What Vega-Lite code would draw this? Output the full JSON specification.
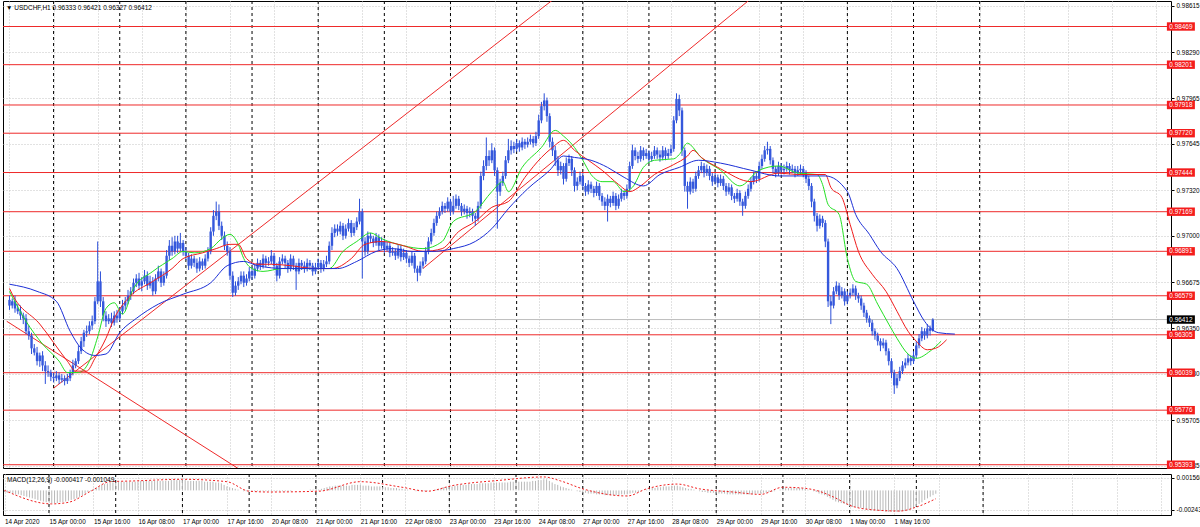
{
"$schema": "https://vega.github.io/schema/vega-lite/v6.json",
"padding": {"left": 2, "top": 0, "right": 0, "bottom": 0},
"background": "white",
"spacing": 3,
"resolve": {"scale": {"x": "independent", "y": "independent"}},
"config": {
 "view": {"stroke": "#000", "strokeWidth": 1},
 "axis": {"domain": false, "labelFont": "Liberation Sans", "labelFontSize": 6.4, "labelColor": "#000", "gridColor": "#c4c4c4", "gridDash": [1, 2], "gridWidth": 1, "tickColor": "#000", "tickSize": 3},
 "title": {"font": "Liberation Sans", "fontSize": 6.5, "fontWeight": "normal", "color": "#000", "anchor": "start", "frame": "group"}
},
"datasets": {
 "days": [{"d":16},{"d":40},{"d":64},{"d":88},{"d":112},{"d":136},{"d":160},{"d":184},{"d":208},{"d":232},{"d":256},{"d":280},{"d":304},{"d":328},{"d":352}],
 "levels": [{"p":0.98469},{"p":0.98201},{"p":0.97918},{"p":0.97720},{"p":0.97444},{"p":0.97169},{"p":0.96891},{"p":0.96579},{"p":0.96305},{"p":0.96039},{"p":0.95776},{"p":0.95393}],
 "bid": [{"p":0.96412}],
 "trend": [{"t":"a","i":16,"p":0.9593},{"t":"a","i":210,"p":0.9885},{"t":"b","i":150,"p":0.9677},{"t":"b","i":275,"p":0.9876},{"t":"c","i":-1,"p":0.9640},{"t":"c","i":90,"p":0.9528}],
 "bars": [
{"i":0,"o":0.9655,"h":0.9658,"l":0.9648,"c":0.9651,"m":-0.0002},
{"i":1,"o":0.9651,"h":0.9656,"l":0.9649,"c":0.9654,"m":-0.0003},
{"i":2,"o":0.9654,"h":0.9658,"l":0.9646,"c":0.9649,"m":-0.0003},
{"i":3,"o":0.9649,"h":0.9652,"l":0.9645,"c":0.9647,"m":-0.0004},
{"i":4,"o":0.9647,"h":0.9651,"l":0.9641,"c":0.9644,"m":-0.0005},
{"i":5,"o":0.9644,"h":0.9646,"l":0.9638,"c":0.9642,"m":-0.0005},
{"i":6,"o":0.9642,"h":0.9645,"l":0.9631,"c":0.9633,"m":-0.0006},
{"i":7,"o":0.9633,"h":0.9637,"l":0.9627,"c":0.9630,"m":-0.0007},
{"i":8,"o":0.9630,"h":0.9632,"l":0.9617,"c":0.9621,"m":-0.0008},
{"i":9,"o":0.9621,"h":0.9624,"l":0.9616,"c":0.9618,"m":-0.0009},
{"i":10,"o":0.9618,"h":0.9622,"l":0.9609,"c":0.9612,"m":-0.0010},
{"i":11,"o":0.9612,"h":0.9618,"l":0.9608,"c":0.9616,"m":-0.0011},
{"i":12,"o":0.9616,"h":0.9619,"l":0.9605,"c":0.9609,"m":-0.0012},
{"i":13,"o":0.9609,"h":0.9612,"l":0.9596,"c":0.9605,"m":-0.0013},
{"i":14,"o":0.9605,"h":0.9609,"l":0.9601,"c":0.9604,"m":-0.0014},
{"i":15,"o":0.9604,"h":0.9606,"l":0.9598,"c":0.9601,"m":-0.0015},
{"i":16,"o":0.9601,"h":0.9604,"l":0.9597,"c":0.9600,"m":-0.0015},
{"i":17,"o":0.9600,"h":0.9605,"l":0.9598,"c":0.9602,"m":-0.0016},
{"i":18,"o":0.9602,"h":0.9604,"l":0.9596,"c":0.9599,"m":-0.0016},
{"i":19,"o":0.9599,"h":0.9603,"l":0.9597,"c":0.9600,"m":-0.0016},
{"i":20,"o":0.9600,"h":0.9602,"l":0.9595,"c":0.9598,"m":-0.0015},
{"i":21,"o":0.9598,"h":0.9603,"l":0.9596,"c":0.9600,"m":-0.0015},
{"i":22,"o":0.9600,"h":0.9606,"l":0.9598,"c":0.9604,"m":-0.0014},
{"i":23,"o":0.9604,"h":0.9613,"l":0.9602,"c":0.9609,"m":-0.0013},
{"i":24,"o":0.9609,"h":0.9614,"l":0.9607,"c":0.9612,"m":-0.0012},
{"i":25,"o":0.9612,"h":0.9623,"l":0.9610,"c":0.9619,"m":-0.0011},
{"i":26,"o":0.9619,"h":0.9629,"l":0.9617,"c":0.9626,"m":-0.0010},
{"i":27,"o":0.9626,"h":0.9634,"l":0.9622,"c":0.9632,"m":-0.0008},
{"i":28,"o":0.9632,"h":0.9637,"l":0.9629,"c":0.9633,"m":-0.0006},
{"i":29,"o":0.9633,"h":0.9640,"l":0.9631,"c":0.9637,"m":-0.0004},
{"i":30,"o":0.9637,"h":0.9644,"l":0.9634,"c":0.9640,"m":-0.0002},
{"i":31,"o":0.9640,"h":0.9657,"l":0.9638,"c":0.9654,"m":-0.0001},
{"i":32,"o":0.9654,"h":0.9696,"l":0.9652,"c":0.9668,"m":0.0002},
{"i":33,"o":0.9668,"h":0.9675,"l":0.9650,"c":0.9654,"m":0.0003},
{"i":34,"o":0.9654,"h":0.9657,"l":0.9640,"c":0.9644,"m":0.0005},
{"i":35,"o":0.9644,"h":0.9647,"l":0.9636,"c":0.9640,"m":0.0007},
{"i":36,"o":0.9640,"h":0.9645,"l":0.9638,"c":0.9642,"m":0.0008},
{"i":37,"o":0.9642,"h":0.9646,"l":0.9636,"c":0.9639,"m":0.0009},
{"i":38,"o":0.9639,"h":0.9647,"l":0.9637,"c":0.9644,"m":0.0010},
{"i":39,"o":0.9644,"h":0.9648,"l":0.9639,"c":0.9642,"m":0.0010},
{"i":40,"o":0.9642,"h":0.9650,"l":0.9640,"c":0.9647,"m":0.0010},
{"i":41,"o":0.9647,"h":0.9655,"l":0.9645,"c":0.9651,"m":0.0011},
{"i":42,"o":0.9651,"h":0.9657,"l":0.9648,"c":0.9654,"m":0.0011},
{"i":43,"o":0.9654,"h":0.9662,"l":0.9652,"c":0.9658,"m":0.0011},
{"i":44,"o":0.9658,"h":0.9664,"l":0.9655,"c":0.9661,"m":0.0011},
{"i":45,"o":0.9661,"h":0.9670,"l":0.9659,"c":0.9667,"m":0.0011},
{"i":46,"o":0.9667,"h":0.9673,"l":0.9664,"c":0.9670,"m":0.0011},
{"i":47,"o":0.9670,"h":0.9674,"l":0.9662,"c":0.9665,"m":0.0011},
{"i":48,"o":0.9665,"h":0.9671,"l":0.9661,"c":0.9668,"m":0.0011},
{"i":49,"o":0.9668,"h":0.9676,"l":0.9666,"c":0.9672,"m":0.0012},
{"i":50,"o":0.9672,"h":0.9675,"l":0.9662,"c":0.9665,"m":0.0012},
{"i":51,"o":0.9665,"h":0.9672,"l":0.9663,"c":0.9668,"m":0.0012},
{"i":52,"o":0.9668,"h":0.9671,"l":0.9658,"c":0.9661,"m":0.0012},
{"i":53,"o":0.9661,"h":0.9673,"l":0.9659,"c":0.9670,"m":0.0012},
{"i":54,"o":0.9670,"h":0.9679,"l":0.9668,"c":0.9675,"m":0.0012},
{"i":55,"o":0.9675,"h":0.9677,"l":0.9664,"c":0.9667,"m":0.0012},
{"i":56,"o":0.9667,"h":0.9675,"l":0.9665,"c":0.9672,"m":0.0012},
{"i":57,"o":0.9672,"h":0.9690,"l":0.9670,"c":0.9686,"m":0.0012},
{"i":58,"o":0.9686,"h":0.9697,"l":0.9683,"c":0.9693,"m":0.0012},
{"i":59,"o":0.9693,"h":0.9699,"l":0.9686,"c":0.9689,"m":0.0012},
{"i":60,"o":0.9689,"h":0.9700,"l":0.9687,"c":0.9696,"m":0.0013},
{"i":61,"o":0.9696,"h":0.9700,"l":0.9688,"c":0.9691,"m":0.0013},
{"i":62,"o":0.9691,"h":0.9702,"l":0.9689,"c":0.9695,"m":0.0013},
{"i":63,"o":0.9695,"h":0.9697,"l":0.9686,"c":0.9689,"m":0.0013},
{"i":64,"o":0.9689,"h":0.9692,"l":0.9683,"c":0.9686,"m":0.0013},
{"i":65,"o":0.9686,"h":0.9688,"l":0.9676,"c":0.9679,"m":0.0013},
{"i":66,"o":0.9679,"h":0.9687,"l":0.9677,"c":0.9684,"m":0.0012},
{"i":67,"o":0.9684,"h":0.9686,"l":0.9678,"c":0.9681,"m":0.0012},
{"i":68,"o":0.9681,"h":0.9684,"l":0.9674,"c":0.9677,"m":0.0012},
{"i":69,"o":0.9677,"h":0.9685,"l":0.9675,"c":0.9682,"m":0.0012},
{"i":70,"o":0.9682,"h":0.9684,"l":0.9676,"c":0.9679,"m":0.0012},
{"i":71,"o":0.9679,"h":0.9687,"l":0.9677,"c":0.9684,"m":0.0012},
{"i":72,"o":0.9684,"h":0.9692,"l":0.9682,"c":0.9689,"m":0.0011},
{"i":73,"o":0.9689,"h":0.9706,"l":0.9687,"c":0.9703,"m":0.0011},
{"i":74,"o":0.9703,"h":0.9718,"l":0.9700,"c":0.9714,"m":0.0011},
{"i":75,"o":0.9714,"h":0.9724,"l":0.9711,"c":0.9717,"m":0.0011},
{"i":76,"o":0.9717,"h":0.9722,"l":0.9704,"c":0.9707,"m":0.0010},
{"i":77,"o":0.9707,"h":0.9710,"l":0.9697,"c":0.9700,"m":0.0010},
{"i":78,"o":0.9700,"h":0.9703,"l":0.9690,"c":0.9693,"m":0.0009},
{"i":79,"o":0.9693,"h":0.9696,"l":0.9686,"c":0.9689,"m":0.0007},
{"i":80,"o":0.9689,"h":0.9692,"l":0.9669,"c":0.9672,"m":0.0005},
{"i":81,"o":0.9672,"h":0.9675,"l":0.9657,"c":0.9660,"m":0.0004},
{"i":82,"o":0.9660,"h":0.9668,"l":0.9658,"c":0.9665,"m":0.0003},
{"i":83,"o":0.9665,"h":0.9671,"l":0.9662,"c":0.9668,"m":0.0002},
{"i":84,"o":0.9668,"h":0.9675,"l":0.9666,"c":0.9672,"m":0.0001},
{"i":85,"o":0.9672,"h":0.9675,"l":0.9664,"c":0.9667,"m":0.0000},
{"i":86,"o":0.9667,"h":0.9673,"l":0.9665,"c":0.9670,"m":-0.0001},
{"i":87,"o":0.9670,"h":0.9678,"l":0.9668,"c":0.9675,"m":-0.0001},
{"i":88,"o":0.9675,"h":0.9678,"l":0.9669,"c":0.9672,"m":-0.0001},
{"i":89,"o":0.9672,"h":0.9680,"l":0.9670,"c":0.9677,"m":-0.0001},
{"i":90,"o":0.9677,"h":0.9684,"l":0.9675,"c":0.9681,"m":-0.0001},
{"i":91,"o":0.9681,"h":0.9683,"l":0.9676,"c":0.9679,"m":-0.0001},
{"i":92,"o":0.9679,"h":0.9687,"l":0.9677,"c":0.9684,"m":-0.0001},
{"i":93,"o":0.9684,"h":0.9686,"l":0.9678,"c":0.9681,"m":-0.0001},
{"i":94,"o":0.9681,"h":0.9685,"l":0.9679,"c":0.9682,"m":-0.0001},
{"i":95,"o":0.9682,"h":0.9690,"l":0.9680,"c":0.9686,"m":-0.0001},
{"i":96,"o":0.9686,"h":0.9688,"l":0.9676,"c":0.9679,"m":-0.0001},
{"i":97,"o":0.9679,"h":0.9681,"l":0.9668,"c":0.9672,"m":-0.0001},
{"i":98,"o":0.9672,"h":0.9685,"l":0.9670,"c":0.9682,"m":-0.0001},
{"i":99,"o":0.9682,"h":0.9687,"l":0.9680,"c":0.9684,"m":-0.0001},
{"i":100,"o":0.9684,"h":0.9686,"l":0.9677,"c":0.9681,"m":-0.0001},
{"i":101,"o":0.9681,"h":0.9683,"l":0.9674,"c":0.9677,"m":-0.0001},
{"i":102,"o":0.9677,"h":0.9687,"l":0.9675,"c":0.9684,"m":-0.0001},
{"i":103,"o":0.9684,"h":0.9686,"l":0.9676,"c":0.9679,"m":-0.0001},
{"i":104,"o":0.9679,"h":0.9681,"l":0.9662,"c":0.9675,"m":0.0000},
{"i":105,"o":0.9675,"h":0.9684,"l":0.9673,"c":0.9681,"m":0.0000},
{"i":106,"o":0.9681,"h":0.9683,"l":0.9676,"c":0.9679,"m":0.0000},
{"i":107,"o":0.9679,"h":0.9682,"l":0.9674,"c":0.9677,"m":0.0000},
{"i":108,"o":0.9677,"h":0.9684,"l":0.9675,"c":0.9681,"m":0.0000},
{"i":109,"o":0.9681,"h":0.9683,"l":0.9676,"c":0.9679,"m":0.0000},
{"i":110,"o":0.9679,"h":0.9681,"l":0.9672,"c":0.9675,"m":0.0001},
{"i":111,"o":0.9675,"h":0.9681,"l":0.9673,"c":0.9678,"m":0.0001},
{"i":112,"o":0.9678,"h":0.9684,"l":0.9676,"c":0.9681,"m":0.0001},
{"i":113,"o":0.9681,"h":0.9683,"l":0.9674,"c":0.9677,"m":0.0001},
{"i":114,"o":0.9677,"h":0.9683,"l":0.9675,"c":0.9680,"m":0.0002},
{"i":115,"o":0.9680,"h":0.9686,"l":0.9678,"c":0.9682,"m":0.0003},
{"i":116,"o":0.9682,"h":0.9696,"l":0.9680,"c":0.9693,"m":0.0004},
{"i":117,"o":0.9693,"h":0.9706,"l":0.9690,"c":0.9702,"m":0.0005},
{"i":118,"o":0.9702,"h":0.9708,"l":0.9699,"c":0.9705,"m":0.0005},
{"i":119,"o":0.9705,"h":0.9708,"l":0.9700,"c":0.9703,"m":0.0006},
{"i":120,"o":0.9703,"h":0.9710,"l":0.9701,"c":0.9707,"m":0.0006},
{"i":121,"o":0.9707,"h":0.9709,"l":0.9697,"c":0.9700,"m":0.0006},
{"i":122,"o":0.9700,"h":0.9708,"l":0.9698,"c":0.9705,"m":0.0006},
{"i":123,"o":0.9705,"h":0.9712,"l":0.9703,"c":0.9709,"m":0.0006},
{"i":124,"o":0.9709,"h":0.9711,"l":0.9699,"c":0.9702,"m":0.0006},
{"i":125,"o":0.9702,"h":0.9709,"l":0.9700,"c":0.9706,"m":0.0007},
{"i":126,"o":0.9706,"h":0.9713,"l":0.9704,"c":0.9710,"m":0.0007},
{"i":127,"o":0.9710,"h":0.9726,"l":0.9708,"c":0.9717,"m":0.0007},
{"i":128,"o":0.9717,"h":0.9719,"l":0.9670,"c":0.9696,"m":0.0007},
{"i":129,"o":0.9696,"h":0.9699,"l":0.9686,"c":0.9689,"m":0.0006},
{"i":130,"o":0.9689,"h":0.9703,"l":0.9687,"c":0.9700,"m":0.0006},
{"i":131,"o":0.9700,"h":0.9702,"l":0.9695,"c":0.9698,"m":0.0006},
{"i":132,"o":0.9698,"h":0.9700,"l":0.9692,"c":0.9695,"m":0.0005},
{"i":133,"o":0.9695,"h":0.9702,"l":0.9693,"c":0.9699,"m":0.0005},
{"i":134,"o":0.9699,"h":0.9701,"l":0.9690,"c":0.9693,"m":0.0005},
{"i":135,"o":0.9693,"h":0.9699,"l":0.9691,"c":0.9696,"m":0.0005},
{"i":136,"o":0.9696,"h":0.9698,"l":0.9688,"c":0.9691,"m":0.0004},
{"i":137,"o":0.9691,"h":0.9696,"l":0.9689,"c":0.9693,"m":0.0004},
{"i":138,"o":0.9693,"h":0.9695,"l":0.9685,"c":0.9688,"m":0.0004},
{"i":139,"o":0.9688,"h":0.9692,"l":0.9686,"c":0.9689,"m":0.0003},
{"i":140,"o":0.9689,"h":0.9691,"l":0.9683,"c":0.9686,"m":0.0003},
{"i":141,"o":0.9686,"h":0.9694,"l":0.9684,"c":0.9691,"m":0.0003},
{"i":142,"o":0.9691,"h":0.9693,"l":0.9682,"c":0.9685,"m":0.0002},
{"i":143,"o":0.9685,"h":0.9691,"l":0.9683,"c":0.9688,"m":0.0002},
{"i":144,"o":0.9688,"h":0.9690,"l":0.9681,"c":0.9684,"m":0.0001},
{"i":145,"o":0.9684,"h":0.9686,"l":0.9678,"c":0.9681,"m":0.0001},
{"i":146,"o":0.9681,"h":0.9689,"l":0.9679,"c":0.9686,"m":0.0000},
{"i":147,"o":0.9686,"h":0.9688,"l":0.9674,"c":0.9677,"m":0.0000},
{"i":148,"o":0.9677,"h":0.9679,"l":0.9668,"c":0.9674,"m":-0.0001},
{"i":149,"o":0.9674,"h":0.9682,"l":0.9672,"c":0.9679,"m":-0.0001},
{"i":150,"o":0.9679,"h":0.9685,"l":0.9677,"c":0.9682,"m":-0.0001},
{"i":151,"o":0.9682,"h":0.9692,"l":0.9680,"c":0.9689,"m":-0.0001},
{"i":152,"o":0.9689,"h":0.9699,"l":0.9687,"c":0.9696,"m":-0.0001},
{"i":153,"o":0.9696,"h":0.9705,"l":0.9694,"c":0.9702,"m":0.0000},
{"i":154,"o":0.9702,"h":0.9712,"l":0.9700,"c":0.9709,"m":0.0000},
{"i":155,"o":0.9709,"h":0.9717,"l":0.9707,"c":0.9714,"m":0.0001},
{"i":156,"o":0.9714,"h":0.9720,"l":0.9712,"c":0.9717,"m":0.0002},
{"i":157,"o":0.9717,"h":0.9724,"l":0.9715,"c":0.9721,"m":0.0003},
{"i":158,"o":0.9721,"h":0.9723,"l":0.9716,"c":0.9719,"m":0.0004},
{"i":159,"o":0.9719,"h":0.9727,"l":0.9717,"c":0.9724,"m":0.0004},
{"i":160,"o":0.9724,"h":0.9726,"l":0.9714,"c":0.9717,"m":0.0005},
{"i":161,"o":0.9717,"h":0.9728,"l":0.9715,"c":0.9721,"m":0.0005},
{"i":162,"o":0.9721,"h":0.9729,"l":0.9719,"c":0.9726,"m":0.0006},
{"i":163,"o":0.9726,"h":0.9728,"l":0.9718,"c":0.9721,"m":0.0006},
{"i":164,"o":0.9721,"h":0.9723,"l":0.9714,"c":0.9717,"m":0.0007},
{"i":165,"o":0.9717,"h":0.9722,"l":0.9715,"c":0.9719,"m":0.0007},
{"i":166,"o":0.9719,"h":0.9721,"l":0.9712,"c":0.9716,"m":0.0007},
{"i":167,"o":0.9716,"h":0.9720,"l":0.9713,"c":0.9717,"m":0.0008},
{"i":168,"o":0.9717,"h":0.9719,"l":0.9710,"c":0.9714,"m":0.0008},
{"i":169,"o":0.9714,"h":0.9716,"l":0.9707,"c":0.9712,"m":0.0008},
{"i":170,"o":0.9712,"h":0.9724,"l":0.9710,"c":0.9721,"m":0.0008},
{"i":171,"o":0.9721,"h":0.9745,"l":0.9719,"c":0.9742,"m":0.0009},
{"i":172,"o":0.9742,"h":0.9753,"l":0.9739,"c":0.9749,"m":0.0009},
{"i":173,"o":0.9749,"h":0.9769,"l":0.9746,"c":0.9756,"m":0.0009},
{"i":174,"o":0.9756,"h":0.9760,"l":0.9749,"c":0.9753,"m":0.0009},
{"i":175,"o":0.9753,"h":0.9765,"l":0.9751,"c":0.9760,"m":0.0010},
{"i":176,"o":0.9760,"h":0.9762,"l":0.9742,"c":0.9746,"m":0.0010},
{"i":177,"o":0.9746,"h":0.9748,"l":0.9705,"c":0.9731,"m":0.0010},
{"i":178,"o":0.9731,"h":0.9740,"l":0.9728,"c":0.9737,"m":0.0010},
{"i":179,"o":0.9737,"h":0.9745,"l":0.9735,"c":0.9742,"m":0.0010},
{"i":180,"o":0.9742,"h":0.9756,"l":0.9740,"c":0.9753,"m":0.0010},
{"i":181,"o":0.9753,"h":0.9768,"l":0.9751,"c":0.9760,"m":0.0010},
{"i":182,"o":0.9760,"h":0.9767,"l":0.9757,"c":0.9763,"m":0.0011},
{"i":183,"o":0.9763,"h":0.9766,"l":0.9758,"c":0.9761,"m":0.0011},
{"i":184,"o":0.9761,"h":0.9768,"l":0.9759,"c":0.9765,"m":0.0011},
{"i":185,"o":0.9765,"h":0.9767,"l":0.9759,"c":0.9762,"m":0.0011},
{"i":186,"o":0.9762,"h":0.9769,"l":0.9760,"c":0.9766,"m":0.0011},
{"i":187,"o":0.9766,"h":0.9768,"l":0.9761,"c":0.9764,"m":0.0011},
{"i":188,"o":0.9764,"h":0.9769,"l":0.9762,"c":0.9766,"m":0.0011},
{"i":189,"o":0.9766,"h":0.9771,"l":0.9764,"c":0.9768,"m":0.0011},
{"i":190,"o":0.9768,"h":0.9770,"l":0.9762,"c":0.9765,"m":0.0012},
{"i":191,"o":0.9765,"h":0.9773,"l":0.9763,"c":0.9770,"m":0.0012},
{"i":192,"o":0.9770,"h":0.9785,"l":0.9768,"c":0.9781,"m":0.0013},
{"i":193,"o":0.9781,"h":0.9794,"l":0.9779,"c":0.9791,"m":0.0013},
{"i":194,"o":0.9791,"h":0.9800,"l":0.9788,"c":0.9795,"m":0.0014},
{"i":195,"o":0.9795,"h":0.9797,"l":0.9780,"c":0.9784,"m":0.0014},
{"i":196,"o":0.9784,"h":0.9786,"l":0.9762,"c":0.9766,"m":0.0012},
{"i":197,"o":0.9766,"h":0.9769,"l":0.9756,"c":0.9760,"m":0.0010},
{"i":198,"o":0.9760,"h":0.9763,"l":0.9749,"c":0.9753,"m":0.0008},
{"i":199,"o":0.9753,"h":0.9756,"l":0.9742,"c":0.9746,"m":0.0007},
{"i":200,"o":0.9746,"h":0.9752,"l":0.9743,"c":0.9749,"m":0.0005},
{"i":201,"o":0.9749,"h":0.9751,"l":0.9736,"c":0.9740,"m":0.0004},
{"i":202,"o":0.9740,"h":0.9755,"l":0.9738,"c":0.9751,"m":0.0003},
{"i":203,"o":0.9751,"h":0.9757,"l":0.9749,"c":0.9754,"m":0.0002},
{"i":204,"o":0.9754,"h":0.9756,"l":0.9742,"c":0.9746,"m":0.0001},
{"i":205,"o":0.9746,"h":0.9748,"l":0.9731,"c":0.9735,"m":0.0000},
{"i":206,"o":0.9735,"h":0.9741,"l":0.9732,"c":0.9738,"m":-0.0001},
{"i":207,"o":0.9738,"h":0.9745,"l":0.9736,"c":0.9742,"m":-0.0002},
{"i":208,"o":0.9742,"h":0.9744,"l":0.9732,"c":0.9735,"m":-0.0003},
{"i":209,"o":0.9735,"h":0.9737,"l":0.9728,"c":0.9731,"m":-0.0003},
{"i":210,"o":0.9731,"h":0.9739,"l":0.9729,"c":0.9736,"m":-0.0004},
{"i":211,"o":0.9736,"h":0.9738,"l":0.9730,"c":0.9733,"m":-0.0004},
{"i":212,"o":0.9733,"h":0.9735,"l":0.9727,"c":0.9730,"m":-0.0004},
{"i":213,"o":0.9730,"h":0.9738,"l":0.9728,"c":0.9735,"m":-0.0005},
{"i":214,"o":0.9735,"h":0.9737,"l":0.9725,"c":0.9728,"m":-0.0005},
{"i":215,"o":0.9728,"h":0.9730,"l":0.9721,"c":0.9724,"m":-0.0005},
{"i":216,"o":0.9724,"h":0.9727,"l":0.9718,"c":0.9721,"m":-0.0006},
{"i":217,"o":0.9721,"h":0.9729,"l":0.9710,"c":0.9726,"m":-0.0006},
{"i":218,"o":0.9726,"h":0.9728,"l":0.9720,"c":0.9723,"m":-0.0006},
{"i":219,"o":0.9723,"h":0.9731,"l":0.9721,"c":0.9728,"m":-0.0006},
{"i":220,"o":0.9728,"h":0.9730,"l":0.9718,"c":0.9721,"m":-0.0006},
{"i":221,"o":0.9721,"h":0.9729,"l":0.9719,"c":0.9726,"m":-0.0006},
{"i":222,"o":0.9726,"h":0.9733,"l":0.9724,"c":0.9730,"m":-0.0005},
{"i":223,"o":0.9730,"h":0.9732,"l":0.9725,"c":0.9728,"m":-0.0005},
{"i":224,"o":0.9728,"h":0.9736,"l":0.9726,"c":0.9733,"m":-0.0005},
{"i":225,"o":0.9733,"h":0.9752,"l":0.9731,"c":0.9749,"m":-0.0004},
{"i":226,"o":0.9749,"h":0.9764,"l":0.9747,"c":0.9760,"m":-0.0003},
{"i":227,"o":0.9760,"h":0.9762,"l":0.9753,"c":0.9756,"m":-0.0003},
{"i":228,"o":0.9756,"h":0.9759,"l":0.9751,"c":0.9754,"m":-0.0002},
{"i":229,"o":0.9754,"h":0.9763,"l":0.9752,"c":0.9760,"m":-0.0001},
{"i":230,"o":0.9760,"h":0.9762,"l":0.9753,"c":0.9756,"m":0.0000},
{"i":231,"o":0.9756,"h":0.9761,"l":0.9754,"c":0.9758,"m":0.0001},
{"i":232,"o":0.9758,"h":0.9760,"l":0.9751,"c":0.9754,"m":0.0002},
{"i":233,"o":0.9754,"h":0.9759,"l":0.9752,"c":0.9756,"m":0.0003},
{"i":234,"o":0.9756,"h":0.9763,"l":0.9754,"c":0.9760,"m":0.0003},
{"i":235,"o":0.9760,"h":0.9762,"l":0.9754,"c":0.9757,"m":0.0004},
{"i":236,"o":0.9757,"h":0.9760,"l":0.9752,"c":0.9755,"m":0.0004},
{"i":237,"o":0.9755,"h":0.9763,"l":0.9753,"c":0.9760,"m":0.0005},
{"i":238,"o":0.9760,"h":0.9762,"l":0.9753,"c":0.9756,"m":0.0005},
{"i":239,"o":0.9756,"h":0.9761,"l":0.9754,"c":0.9758,"m":0.0005},
{"i":240,"o":0.9758,"h":0.9764,"l":0.9756,"c":0.9761,"m":0.0006},
{"i":241,"o":0.9761,"h":0.9784,"l":0.9759,"c":0.9781,"m":0.0006},
{"i":242,"o":0.9781,"h":0.9800,"l":0.9779,"c":0.9796,"m":0.0006},
{"i":243,"o":0.9796,"h":0.9799,"l":0.9784,"c":0.9788,"m":0.0005},
{"i":244,"o":0.9788,"h":0.9790,"l":0.9756,"c":0.9760,"m":0.0004},
{"i":245,"o":0.9760,"h":0.9762,"l":0.9731,"c":0.9735,"m":0.0003},
{"i":246,"o":0.9735,"h":0.9738,"l":0.9719,"c":0.9731,"m":0.0002},
{"i":247,"o":0.9731,"h":0.9741,"l":0.9729,"c":0.9738,"m":0.0002},
{"i":248,"o":0.9738,"h":0.9740,"l":0.9730,"c":0.9733,"m":0.0001},
{"i":249,"o":0.9733,"h":0.9745,"l":0.9731,"c":0.9742,"m":0.0000},
{"i":250,"o":0.9742,"h":0.9749,"l":0.9740,"c":0.9746,"m":-0.0001},
{"i":251,"o":0.9746,"h":0.9752,"l":0.9744,"c":0.9749,"m":-0.0002},
{"i":252,"o":0.9749,"h":0.9751,"l":0.9741,"c":0.9744,"m":-0.0002},
{"i":253,"o":0.9744,"h":0.9750,"l":0.9742,"c":0.9747,"m":-0.0003},
{"i":254,"o":0.9747,"h":0.9749,"l":0.9739,"c":0.9742,"m":-0.0003},
{"i":255,"o":0.9742,"h":0.9744,"l":0.9735,"c":0.9738,"m":-0.0003},
{"i":256,"o":0.9738,"h":0.9744,"l":0.9736,"c":0.9741,"m":-0.0004},
{"i":257,"o":0.9741,"h":0.9743,"l":0.9734,"c":0.9737,"m":-0.0004},
{"i":258,"o":0.9737,"h":0.9743,"l":0.9735,"c":0.9740,"m":-0.0004},
{"i":259,"o":0.9740,"h":0.9742,"l":0.9732,"c":0.9735,"m":-0.0004},
{"i":260,"o":0.9735,"h":0.9737,"l":0.9728,"c":0.9731,"m":-0.0005},
{"i":261,"o":0.9731,"h":0.9737,"l":0.9729,"c":0.9734,"m":-0.0005},
{"i":262,"o":0.9734,"h":0.9736,"l":0.9725,"c":0.9728,"m":-0.0005},
{"i":263,"o":0.9728,"h":0.9730,"l":0.9723,"c":0.9726,"m":-0.0005},
{"i":264,"o":0.9726,"h":0.9733,"l":0.9724,"c":0.9730,"m":-0.0005},
{"i":265,"o":0.9730,"h":0.9732,"l":0.9721,"c":0.9724,"m":-0.0005},
{"i":266,"o":0.9724,"h":0.9726,"l":0.9714,"c":0.9721,"m":-0.0005},
{"i":267,"o":0.9721,"h":0.9731,"l":0.9719,"c":0.9728,"m":-0.0005},
{"i":268,"o":0.9728,"h":0.9736,"l":0.9726,"c":0.9733,"m":-0.0005},
{"i":269,"o":0.9733,"h":0.9741,"l":0.9731,"c":0.9738,"m":-0.0005},
{"i":270,"o":0.9738,"h":0.9745,"l":0.9736,"c":0.9742,"m":-0.0004},
{"i":271,"o":0.9742,"h":0.9744,"l":0.9737,"c":0.9740,"m":-0.0004},
{"i":272,"o":0.9740,"h":0.9752,"l":0.9738,"c":0.9749,"m":-0.0004},
{"i":273,"o":0.9749,"h":0.9757,"l":0.9747,"c":0.9754,"m":-0.0003},
{"i":274,"o":0.9754,"h":0.9763,"l":0.9752,"c":0.9760,"m":-0.0003},
{"i":275,"o":0.9760,"h":0.9766,"l":0.9757,"c":0.9761,"m":-0.0002},
{"i":276,"o":0.9761,"h":0.9763,"l":0.9750,"c":0.9753,"m":-0.0002},
{"i":277,"o":0.9753,"h":0.9755,"l":0.9744,"c":0.9747,"m":-0.0001},
{"i":278,"o":0.9747,"h":0.9749,"l":0.9741,"c":0.9744,"m":0.0000},
{"i":279,"o":0.9744,"h":0.9752,"l":0.9742,"c":0.9749,"m":0.0001},
{"i":280,"o":0.9749,"h":0.9751,"l":0.9743,"c":0.9746,"m":0.0002},
{"i":281,"o":0.9746,"h":0.9750,"l":0.9743,"c":0.9747,"m":0.0003},
{"i":282,"o":0.9747,"h":0.9752,"l":0.9745,"c":0.9749,"m":0.0003},
{"i":283,"o":0.9749,"h":0.9751,"l":0.9743,"c":0.9746,"m":0.0003},
{"i":284,"o":0.9746,"h":0.9750,"l":0.9744,"c":0.9747,"m":0.0003},
{"i":285,"o":0.9747,"h":0.9749,"l":0.9741,"c":0.9744,"m":0.0003},
{"i":286,"o":0.9744,"h":0.9749,"l":0.9742,"c":0.9746,"m":0.0003},
{"i":287,"o":0.9746,"h":0.9750,"l":0.9743,"c":0.9747,"m":0.0003},
{"i":288,"o":0.9747,"h":0.9749,"l":0.9741,"c":0.9744,"m":0.0002},
{"i":289,"o":0.9744,"h":0.9746,"l":0.9737,"c":0.9740,"m":0.0001},
{"i":290,"o":0.9740,"h":0.9742,"l":0.9732,"c":0.9735,"m":0.0000},
{"i":291,"o":0.9735,"h":0.9737,"l":0.9720,"c":0.9724,"m":-0.0001},
{"i":292,"o":0.9724,"h":0.9726,"l":0.9710,"c":0.9714,"m":-0.0002},
{"i":293,"o":0.9714,"h":0.9716,"l":0.9703,"c":0.9707,"m":-0.0004},
{"i":294,"o":0.9707,"h":0.9715,"l":0.9705,"c":0.9712,"m":-0.0005},
{"i":295,"o":0.9712,"h":0.9714,"l":0.9706,"c":0.9709,"m":-0.0006},
{"i":296,"o":0.9709,"h":0.9711,"l":0.9692,"c":0.9696,"m":-0.0008},
{"i":297,"o":0.9696,"h":0.9698,"l":0.9650,"c":0.9654,"m":-0.0010},
{"i":298,"o":0.9654,"h":0.9658,"l":0.9638,"c":0.9651,"m":-0.0012},
{"i":299,"o":0.9651,"h":0.9664,"l":0.9649,"c":0.9661,"m":-0.0014},
{"i":300,"o":0.9661,"h":0.9668,"l":0.9659,"c":0.9665,"m":-0.0015},
{"i":301,"o":0.9665,"h":0.9667,"l":0.9655,"c":0.9658,"m":-0.0016},
{"i":302,"o":0.9658,"h":0.9664,"l":0.9656,"c":0.9661,"m":-0.0017},
{"i":303,"o":0.9661,"h":0.9663,"l":0.9651,"c":0.9654,"m":-0.0018},
{"i":304,"o":0.9654,"h":0.9661,"l":0.9652,"c":0.9658,"m":-0.0020},
{"i":305,"o":0.9658,"h":0.9663,"l":0.9656,"c":0.9660,"m":-0.0021},
{"i":306,"o":0.9660,"h":0.9666,"l":0.9658,"c":0.9663,"m":-0.0021},
{"i":307,"o":0.9663,"h":0.9665,"l":0.9655,"c":0.9658,"m":-0.0022},
{"i":308,"o":0.9658,"h":0.9660,"l":0.9653,"c":0.9656,"m":-0.0022},
{"i":309,"o":0.9656,"h":0.9658,"l":0.9648,"c":0.9651,"m":-0.0023},
{"i":310,"o":0.9651,"h":0.9653,"l":0.9643,"c":0.9646,"m":-0.0024},
{"i":311,"o":0.9646,"h":0.9648,"l":0.9639,"c":0.9642,"m":-0.0024},
{"i":312,"o":0.9642,"h":0.9644,"l":0.9636,"c":0.9639,"m":-0.0025},
{"i":313,"o":0.9639,"h":0.9641,"l":0.9630,"c":0.9633,"m":-0.0025},
{"i":314,"o":0.9633,"h":0.9635,"l":0.9627,"c":0.9630,"m":-0.0026},
{"i":315,"o":0.9630,"h":0.9632,"l":0.9623,"c":0.9626,"m":-0.0026},
{"i":316,"o":0.9626,"h":0.9628,"l":0.9619,"c":0.9623,"m":-0.0026},
{"i":317,"o":0.9623,"h":0.9628,"l":0.9621,"c":0.9625,"m":-0.0027},
{"i":318,"o":0.9625,"h":0.9627,"l":0.9616,"c":0.9619,"m":-0.0027},
{"i":319,"o":0.9619,"h":0.9621,"l":0.9609,"c":0.9612,"m":-0.0027},
{"i":320,"o":0.9612,"h":0.9614,"l":0.9600,"c":0.9604,"m":-0.0027},
{"i":321,"o":0.9604,"h":0.9606,"l":0.9589,"c":0.9595,"m":-0.0027},
{"i":322,"o":0.9595,"h":0.9603,"l":0.9593,"c":0.9600,"m":-0.0027},
{"i":323,"o":0.9600,"h":0.9608,"l":0.9598,"c":0.9605,"m":-0.0026},
{"i":324,"o":0.9605,"h":0.9612,"l":0.9603,"c":0.9609,"m":-0.0026},
{"i":325,"o":0.9609,"h":0.9614,"l":0.9607,"c":0.9611,"m":-0.0025},
{"i":326,"o":0.9611,"h":0.9617,"l":0.9609,"c":0.9614,"m":-0.0024},
{"i":327,"o":0.9614,"h":0.9616,"l":0.9609,"c":0.9612,"m":-0.0022},
{"i":328,"o":0.9612,"h":0.9619,"l":0.9610,"c":0.9616,"m":-0.0020},
{"i":329,"o":0.9616,"h":0.9626,"l":0.9614,"c":0.9623,"m":-0.0017},
{"i":330,"o":0.9623,"h":0.9631,"l":0.9621,"c":0.9628,"m":-0.0015},
{"i":331,"o":0.9628,"h":0.9636,"l":0.9626,"c":0.9633,"m":-0.0012},
{"i":332,"o":0.9633,"h":0.9635,"l":0.9627,"c":0.9630,"m":-0.0010},
{"i":333,"o":0.9630,"h":0.9638,"l":0.9628,"c":0.9635,"m":-0.0008},
{"i":334,"o":0.9635,"h":0.9637,"l":0.9630,"c":0.96333,"m":-0.0006},
{"i":335,"o":0.96333,"h":0.96421,"l":0.96327,"c":0.96412,"m":-0.000417}
 ],
 "ma": [
{"s":"lips","i":0,"v":0.9661},{"s":"lips","i":6,"v":0.9640},{"s":"lips","i":12,"v":0.9624},{"s":"lips","i":18,"v":0.9612},{"s":"lips","i":21,"v":0.9604},{"s":"lips","i":25,"v":0.9604},{"s":"lips","i":29,"v":0.9612},{"s":"lips","i":32,"v":0.9629},{"s":"lips","i":35,"v":0.9649},{"s":"lips","i":38,"v":0.9653},{"s":"lips","i":41,"v":0.9645},{"s":"lips","i":45,"v":0.9663},{"s":"lips","i":52,"v":0.9675},{"s":"lips","i":59,"v":0.9684},{"s":"lips","i":63,"v":0.9689},{"s":"lips","i":67,"v":0.9688},{"s":"lips","i":73,"v":0.9691},{"s":"lips","i":77,"v":0.9698},{"s":"lips","i":80,"v":0.9701},{"s":"lips","i":83,"v":0.9694},{"s":"lips","i":85,"v":0.9684},{"s":"lips","i":88,"v":0.9677},{"s":"lips","i":92,"v":0.9675},{"s":"lips","i":99,"v":0.9677},{"s":"lips","i":106,"v":0.9677},{"s":"lips","i":111,"v":0.9677},{"s":"lips","i":116,"v":0.9677},{"s":"lips","i":121,"v":0.9689},{"s":"lips","i":126,"v":0.9696},{"s":"lips","i":131,"v":0.9702},{"s":"lips","i":135,"v":0.9698},{"s":"lips","i":143,"v":0.9693},{"s":"lips","i":150,"v":0.9691},{"s":"lips","i":157,"v":0.9696},{"s":"lips","i":161,"v":0.9710},{"s":"lips","i":169,"v":0.9717},{"s":"lips","i":175,"v":0.9731},{"s":"lips","i":179,"v":0.9738},{"s":"lips","i":181,"v":0.9731},{"s":"lips","i":186,"v":0.9748},{"s":"lips","i":193,"v":0.9762},{"s":"lips","i":198,"v":0.9774},{"s":"lips","i":201,"v":0.9770},{"s":"lips","i":205,"v":0.9762},{"s":"lips","i":208,"v":0.9753},{"s":"lips","i":211,"v":0.9743},{"s":"lips","i":215,"v":0.9738},{"s":"lips","i":219,"v":0.9738},{"s":"lips","i":223,"v":0.9731},{"s":"lips","i":226,"v":0.9734},{"s":"lips","i":230,"v":0.9748},{"s":"lips","i":234,"v":0.9753},{"s":"lips","i":241,"v":0.9754},{"s":"lips","i":243,"v":0.9757},{"s":"lips","i":246,"v":0.9765},{"s":"lips","i":248,"v":0.9762},{"s":"lips","i":250,"v":0.9757},{"s":"lips","i":258,"v":0.9746},{"s":"lips","i":265,"v":0.9735},{"s":"lips","i":272,"v":0.9746},{"s":"lips","i":279,"v":0.9749},{"s":"lips","i":286,"v":0.9744},{"s":"lips","i":293,"v":0.9743},{"s":"lips","i":295,"v":0.9736},{"s":"lips","i":297,"v":0.9722},{"s":"lips","i":301,"v":0.9715},{"s":"lips","i":304,"v":0.9684},{"s":"lips","i":307,"v":0.9668},{"s":"lips","i":311,"v":0.9666},{"s":"lips","i":315,"v":0.9652},{"s":"lips","i":319,"v":0.9638},{"s":"lips","i":322,"v":0.9628},{"s":"lips","i":326,"v":0.9617},{"s":"lips","i":329,"v":0.9614},{"s":"lips","i":334,"v":0.9619},{"s":"lips","i":338,"v":0.9626},
{"s":"teeth","i":0,"v":0.9663},{"s":"teeth","i":1,"v":0.9659},{"s":"teeth","i":11,"v":0.9638},{"s":"teeth","i":21,"v":0.9612},{"s":"teeth","i":24,"v":0.9605},{"s":"teeth","i":28,"v":0.9605},{"s":"teeth","i":31,"v":0.9614},{"s":"teeth","i":35,"v":0.9628},{"s":"teeth","i":38,"v":0.9642},{"s":"teeth","i":43,"v":0.9656},{"s":"teeth","i":52,"v":0.9668},{"s":"teeth","i":59,"v":0.9677},{"s":"teeth","i":63,"v":0.9684},{"s":"teeth","i":70,"v":0.9688},{"s":"teeth","i":75,"v":0.9691},{"s":"teeth","i":80,"v":0.9694},{"s":"teeth","i":83,"v":0.9694},{"s":"teeth","i":86,"v":0.9684},{"s":"teeth","i":90,"v":0.9680},{"s":"teeth","i":95,"v":0.9680},{"s":"teeth","i":102,"v":0.9679},{"s":"teeth","i":111,"v":0.9677},{"s":"teeth","i":117,"v":0.9677},{"s":"teeth","i":124,"v":0.9684},{"s":"teeth","i":129,"v":0.9694},{"s":"teeth","i":135,"v":0.9696},{"s":"teeth","i":143,"v":0.9693},{"s":"teeth","i":150,"v":0.9689},{"s":"teeth","i":157,"v":0.9691},{"s":"teeth","i":163,"v":0.9703},{"s":"teeth","i":169,"v":0.9710},{"s":"teeth","i":175,"v":0.9720},{"s":"teeth","i":181,"v":0.9724},{"s":"teeth","i":187,"v":0.9741},{"s":"teeth","i":193,"v":0.9755},{"s":"teeth","i":197,"v":0.9762},{"s":"teeth","i":201,"v":0.9767},{"s":"teeth","i":205,"v":0.9760},{"s":"teeth","i":210,"v":0.9753},{"s":"teeth","i":215,"v":0.9746},{"s":"teeth","i":221,"v":0.9736},{"s":"teeth","i":225,"v":0.9731},{"s":"teeth","i":229,"v":0.9735},{"s":"teeth","i":234,"v":0.9743},{"s":"teeth","i":241,"v":0.9750},{"s":"teeth","i":246,"v":0.9756},{"s":"teeth","i":248,"v":0.9760},{"s":"teeth","i":251,"v":0.9755},{"s":"teeth","i":258,"v":0.9747},{"s":"teeth","i":269,"v":0.9738},{"s":"teeth","i":279,"v":0.9744},{"s":"teeth","i":286,"v":0.9743},{"s":"teeth","i":296,"v":0.9743},{"s":"teeth","i":298,"v":0.9734},{"s":"teeth","i":302,"v":0.9727},{"s":"teeth","i":305,"v":0.9708},{"s":"teeth","i":308,"v":0.9689},{"s":"teeth","i":313,"v":0.9673},{"s":"teeth","i":318,"v":0.9661},{"s":"teeth","i":322,"v":0.9647},{"s":"teeth","i":326,"v":0.9633},{"s":"teeth","i":329,"v":0.9626},{"s":"teeth","i":333,"v":0.9620},{"s":"teeth","i":336,"v":0.9621},{"s":"teeth","i":340,"v":0.9627},
{"s":"jaw","i":0,"v":0.9666},{"s":"jaw","i":10,"v":0.9661},{"s":"jaw","i":17,"v":0.9654},{"s":"jaw","i":22,"v":0.9633},{"s":"jaw","i":26,"v":0.9621},{"s":"jaw","i":31,"v":0.9616},{"s":"jaw","i":35,"v":0.9617},{"s":"jaw","i":40,"v":0.9632},{"s":"jaw","i":46,"v":0.9642},{"s":"jaw","i":54,"v":0.9652},{"s":"jaw","i":63,"v":0.9659},{"s":"jaw","i":73,"v":0.9667},{"s":"jaw","i":79,"v":0.9679},{"s":"jaw","i":85,"v":0.9682},{"s":"jaw","i":90,"v":0.9679},{"s":"jaw","i":100,"v":0.9677},{"s":"jaw","i":111,"v":0.9677},{"s":"jaw","i":119,"v":0.9677},{"s":"jaw","i":126,"v":0.9682},{"s":"jaw","i":133,"v":0.9689},{"s":"jaw","i":139,"v":0.9691},{"s":"jaw","i":146,"v":0.9689},{"s":"jaw","i":153,"v":0.9689},{"s":"jaw","i":161,"v":0.9691},{"s":"jaw","i":169,"v":0.9696},{"s":"jaw","i":175,"v":0.9705},{"s":"jaw","i":181,"v":0.9719},{"s":"jaw","i":188,"v":0.9733},{"s":"jaw","i":196,"v":0.9746},{"s":"jaw","i":201,"v":0.9756},{"s":"jaw","i":205,"v":0.9755},{"s":"jaw","i":211,"v":0.9753},{"s":"jaw","i":217,"v":0.9748},{"s":"jaw","i":223,"v":0.9741},{"s":"jaw","i":230,"v":0.9735},{"s":"jaw","i":236,"v":0.9743},{"s":"jaw","i":243,"v":0.9748},{"s":"jaw","i":250,"v":0.9753},{"s":"jaw","i":258,"v":0.9751},{"s":"jaw","i":269,"v":0.9746},{"s":"jaw","i":279,"v":0.9742},{"s":"jaw","i":286,"v":0.9742},{"s":"jaw","i":296,"v":0.9742},{"s":"jaw","i":304,"v":0.9731},{"s":"jaw","i":307,"v":0.9715},{"s":"jaw","i":312,"v":0.9701},{"s":"jaw","i":316,"v":0.9689},{"s":"jaw","i":322,"v":0.9677},{"s":"jaw","i":328,"v":0.9654},{"s":"jaw","i":332,"v":0.9640},{"s":"jaw","i":337,"v":0.9632},{"s":"jaw","i":343,"v":0.9631}
 ],
 "sig": [
{"i":0,"v":0.0000},{"i":17,"v":-0.0017},{"i":23,"v":-0.0015},{"i":31,"v":-0.0001},{"i":38,"v":0.0011},{"i":47,"v":0.0012},{"i":64,"v":0.0014},{"i":80,"v":0.0011},{"i":88,"v":-0.0001},{"i":95,"v":-0.0002},{"i":113,"v":-0.0001},{"i":128,"v":0.0011},{"i":143,"v":0.0004},{"i":152,"v":-0.0001},{"i":161,"v":0.0006},{"i":179,"v":0.0013},{"i":194,"v":0.0017},{"i":200,"v":0.0012},{"i":208,"v":0.0002},{"i":224,"v":-0.0007},{"i":231,"v":0.0002},{"i":242,"v":0.0008},{"i":250,"v":0.0002},{"i":262,"v":-0.0002},{"i":272,"v":-0.0005},{"i":280,"v":0.0004},{"i":287,"v":0.0003},{"i":293,"v":-0.0001},{"i":298,"v":-0.0008},{"i":305,"v":-0.0020},{"i":311,"v":-0.0024},{"i":322,"v":-0.0026},{"i":328,"v":-0.0021},{"i":335,"v":-0.001049}
 ]
},
"vconcat": [
 {
  "width": 1168, "height": 467,
  "title": {"text": "▼ USDCHF,H1  0.96333 0.96421 0.96327 0.96412", "offset": -11, "dx": 3},
  "layer": [
   {"data": {"name": "days"}, "mark": {"type": "rule", "color": "#000", "strokeDash": [3, 3], "strokeWidth": 1},
    "encoding": {"x": {"field": "d", "type": "quantitative", "title": null, "scale": {"domain": [-0.54, 419.6], "nice": false, "zero": false},
      "axis": {"values": [0,8,16,24,32,40,48,56,64,72,80,88,96,104,112,120,128,136,144,152,160,168,176,184,192,200,208,216,224,232,240,248,256,264,272,280,288,296,304,312,320,328,336,344,352,360,368,376,384,392,400,408,416], "labels": false, "ticks": false, "grid": true, "orient": "bottom"}}}},
   {"data": {"name": "levels"}, "mark": {"type": "rule", "color": "#ee2a2a", "strokeWidth": 1},
    "encoding": {"y": {"field": "p", "type": "quantitative", "title": null, "scale": {"domain": [0.9537, 0.98648], "nice": false, "zero": false},
      "axis": {"orient": "right", "values": [0.98615,0.98455,0.98290,0.98130,0.97965,0.97805,0.97645,0.97480,0.97320,0.97160,0.97000,0.96835,0.96675,0.96515,0.96350,0.96190,0.96030,0.95865,0.95705,0.95545,0.95385], "format": ".5f", "grid": true, "labelPadding": 2}}}},
   {"data": {"name": "bid"}, "mark": {"type": "rule", "color": "#bdbdbd", "strokeWidth": 1},
    "encoding": {"y": {"field": "p", "type": "quantitative", "title": null}}},
   {"data": {"name": "trend"}, "mark": {"type": "line", "color": "#ee2a2a", "strokeWidth": 1, "clip": true},
    "encoding": {"x": {"field": "i", "type": "quantitative", "title": null}, "y": {"field": "p", "type": "quantitative", "title": null}, "detail": {"field": "t"}}},
   {"data": {"name": "bars"}, "mark": {"type": "rule", "color": "#2a4ed8", "strokeWidth": 1},
    "encoding": {"x": {"field": "i", "type": "quantitative", "title": null}, "y": {"field": "l", "type": "quantitative", "title": null}, "y2": {"field": "h"}}},
   {"data": {"name": "bars"}, "mark": {"type": "bar", "color": "#3558dc", "width": 2.4},
    "encoding": {"x": {"field": "i", "type": "quantitative", "title": null}, "y": {"field": "o", "type": "quantitative", "title": null}, "y2": {"field": "c"}}},
   {"data": {"name": "ma"}, "mark": {"type": "line", "strokeWidth": 1, "interpolate": "monotone"},
    "encoding": {"x": {"field": "i", "type": "quantitative", "title": null}, "y": {"field": "v", "type": "quantitative", "title": null},
     "color": {"field": "s", "type": "nominal", "legend": null, "scale": {"domain": ["jaw", "teeth", "lips"], "range": ["#1c2fd6", "#f01c1c", "#22e022"]}}}},
   {"data": {"name": "levels"}, "mark": {"type": "point", "shape": "M-1,-0.3H1V0.3H-1Z", "filled": true, "size": 784, "color": "#f41c1c", "opacity": 1},
    "encoding": {"x": {"datum": 425, "type": "quantitative"}, "y": {"field": "p", "type": "quantitative", "title": null}}},
   {"data": {"name": "levels"}, "mark": {"type": "text", "font": "Liberation Sans", "fontSize": 6.4, "color": "#fff", "align": "center", "baseline": "middle"},
    "encoding": {"x": {"datum": 425, "type": "quantitative"}, "y": {"field": "p", "type": "quantitative", "title": null}, "text": {"field": "p", "type": "quantitative", "format": ".5f"}}},
   {"data": {"name": "bid"}, "mark": {"type": "point", "shape": "M-1,-0.3H1V0.3H-1Z", "filled": true, "size": 784, "color": "#000", "opacity": 1},
    "encoding": {"x": {"datum": 425, "type": "quantitative"}, "y": {"field": "p", "type": "quantitative", "title": null}}},
   {"data": {"name": "bid"}, "mark": {"type": "text", "font": "Liberation Sans", "fontSize": 6.4, "color": "#fff", "align": "center", "baseline": "middle"},
    "encoding": {"x": {"datum": 425, "type": "quantitative"}, "y": {"field": "p", "type": "quantitative", "title": null}, "text": {"field": "p", "type": "quantitative", "format": ".5f"}}}
  ]
 },
 {
  "width": 1168, "height": 41,
  "title": {"text": "MACD(12,26,9) -0.000417 -0.001049", "offset": -10, "dx": 4},
  "layer": [
   {"data": {"name": "days"}, "mark": {"type": "rule", "color": "#000", "strokeDash": [3, 3], "strokeWidth": 1},
    "encoding": {"x": {"field": "d", "type": "quantitative", "title": null, "scale": {"domain": [-0.54, 419.6], "nice": false, "zero": false},
      "axis": {"values": [0,8,16,24,32,40,48,56,64,72,80,88,96,104,112,120,128,136,144,152,160,168,176,184,192,200,208,216,224,232,240,248,256,264,272,280,288,296,304,312,320,328,336,344,352,360,368,376,384,392,400,408,416], "grid": true, "ticks": false, "labelAlign": "left", "labelPadding": 3, "labelOverlap": false, "labelBound": false, "labelFlush": false,
       "labelExpr": "datum.value % 16 == 0 && datum.value <= 320 ? ['14 Apr 2020','15 Apr 00:00','15 Apr 16:00','16 Apr 08:00','17 Apr 00:00','17 Apr 16:00','20 Apr 08:00','21 Apr 00:00','21 Apr 16:00','22 Apr 08:00','23 Apr 00:00','23 Apr 16:00','24 Apr 08:00','27 Apr 00:00','27 Apr 16:00','28 Apr 08:00','29 Apr 00:00','29 Apr 16:00','30 Apr 08:00','1 May 00:00','1 May 16:00'][datum.value / 16] : ''"}}}},
   {"data": {"name": "bars"}, "mark": {"type": "rule", "color": "#b8b8b8", "strokeWidth": 1},
    "encoding": {"x": {"field": "i", "type": "quantitative", "title": null}, "y": {"field": "m", "type": "quantitative", "title": null, "scale": {"domain": [-0.0031, 0.00207], "nice": false, "zero": false},
      "axis": {"orient": "right", "values": [0.001568, 0, -0.00243], "labelExpr": "datum.value == 0 ? '0.00' : toString(datum.value)", "grid": true, "labelPadding": 2}},
     "y2": {"datum": 0}}},
   {"data": {"name": "sig"}, "mark": {"type": "line", "color": "#f01c1c", "strokeWidth": 1, "strokeDash": [2, 2], "interpolate": "monotone"},
    "encoding": {"x": {"field": "i", "type": "quantitative", "title": null}, "y": {"field": "v", "type": "quantitative", "title": null}}}
  ]
 }
]
}
